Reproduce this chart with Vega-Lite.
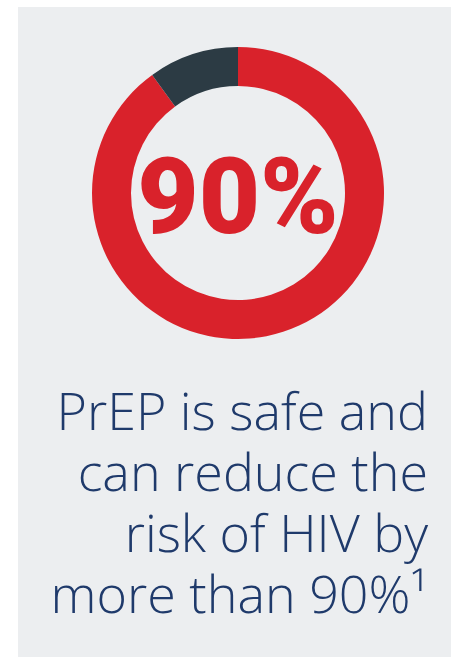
{
  "$schema": "https://vega.github.io/schema/vega-lite/v6.json",
  "width": 433,
  "height": 650,
  "autosize": {"type": "none"},
  "padding": {"left": 18, "top": 7, "right": 0, "bottom": 1},
  "background": "#ffffff",
  "view": {"fill": "#eceef0", "stroke": null},
  "layer": [
    {
      "data": {"values": [
        {"segment": "Protected", "percent": 90},
        {"segment": "Remaining", "percent": 10}
      ]},
      "mark": {"type": "arc", "outerRadius": 146, "innerRadius": 107, "xOffset": 3.5, "yOffset": -139},
      "encoding": {
        "theta": {"field": "percent", "type": "quantitative", "stack": true},
        "order": {"field": "percent", "sort": "descending"},
        "color": {
          "field": "segment", "type": "nominal",
          "scale": {"domain": ["Protected", "Remaining"], "range": ["#d9222b", "#2c3b44"]},
          "legend": null
        }
      }
    },
    {
      "data": {"values": [{"label": "90%"}]},
      "mark": {"type": "text", "font": "Roboto", "fontWeight": 900, "fontSize": 106, "color": "#d9222b", "align": "center", "baseline": "alphabetic", "xOffset": 3.5, "yOffset": -99},
      "encoding": {"text": {"field": "label", "type": "nominal"}}
    },
    {
      "data": {"values": [
        {"line": 1, "text": "PrEP is safe and"},
        {"line": 2, "text": "can reduce the"},
        {"line": 3, "text": "risk of HIV by"},
        {"line": 4, "text": "more than 90%¹"}
      ]},
      "mark": {"type": "text", "font": "Open Sans", "fontWeight": 300, "fontSize": 52, "color": "#1f3a6b", "align": "right", "baseline": "alphabetic", "xOffset": -23},
      "encoding": {
        "x": {"value": "width"},
        "y": {"field": "line", "type": "ordinal", "scale": {"type": "point", "range": [423, 606], "padding": 0}, "axis": null},
        "text": {"field": "text", "type": "nominal"}
      }
    }
  ]
}
